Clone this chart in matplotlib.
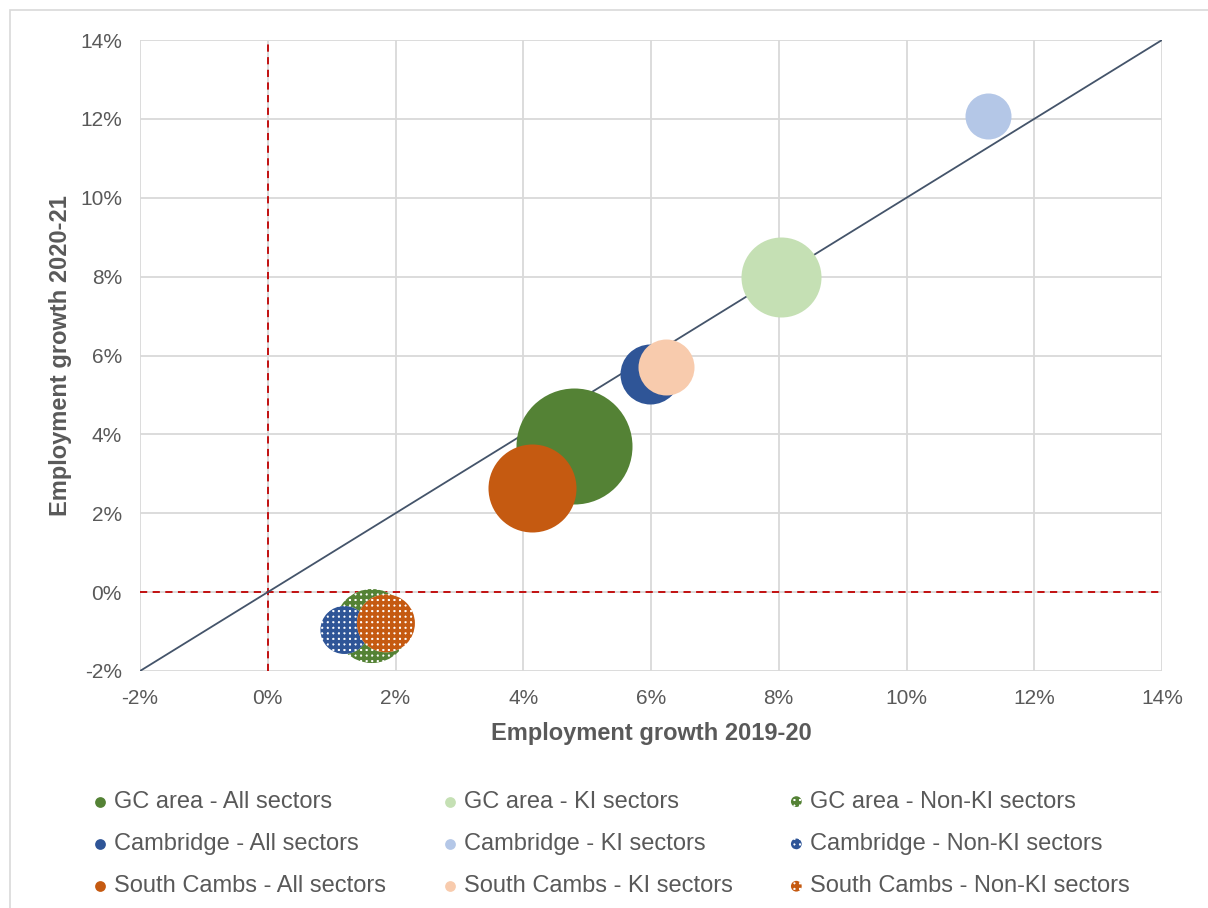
import matplotlib.pyplot as plt
from matplotlib.patches import Rectangle

# employment growth (%) and relative bubble size
labels = ["GC area - All sectors", "Cambridge - All sectors", "South Cambs - All sectors",
          "GC area - KI sectors", "Cambridge - KI sectors", "South Cambs - KI sectors",
          "GC area - Non-KI sectors", "Cambridge - Non-KI sectors", "South Cambs - Non-KI sectors"]
growth_1920 = [4.79, 5.99, 4.13, 8.03, 11.27, 6.24, 1.63, 1.20, 1.85]
growth_2021 = [3.70, 5.53, 2.63, 7.99, 12.07, 5.71, -0.86, -0.96, -0.79]
bubble_size = [3364, 900, 1936, 1600, 529, 784, 1369, 576, 841]
colors = ["#548235", "#2F5597", "#C55A11", "#C5E0B4", "#B4C7E7", "#F8CBAD",
          "#548235", "#2F5597", "#C55A11"]
hatched = [False, False, False, False, False, False, True, True, True]

ticks = list(range(-2, 15, 2))
tick_labels = [f"{t}%" for t in ticks]

plt.rcParams['font.family'] = ['Liberation Sans', 'DejaVu Sans']
plt.rcParams['hatch.linewidth'] = 2.5

fig = plt.figure(figsize=(12.08, 9.08), dpi=100)
fig.patches.append(Rectangle((10 / 1208, -0.01), 1.1, 1 - 10 / 908 + 0.01, transform=fig.transFigure,
                             fill=False, edgecolor="#D9D9D9", linewidth=1.2))
ax = fig.add_axes([140 / 1208, 1 - 671 / 908, 1022 / 1208, 631 / 908])

ax.set_xlim(-2, 14)
ax.set_ylim(-2, 14)
ax.set_xticks(ticks)
ax.set_yticks(ticks)
ax.set_xticklabels(tick_labels)
ax.set_yticklabels(tick_labels)
ax.grid(True, color="#D9D9D9", linewidth=1.3)
ax.set_axisbelow(True)
for s in ax.spines.values():
    s.set_visible(False)
ax.tick_params(length=0, labelsize=15, labelcolor="#595959")
ax.tick_params(axis="y", pad=13)
ax.tick_params(axis="x", pad=13)

ax.axvline(0, color="#C00000", linestyle=(0, (4, 3)), linewidth=1.3, zorder=1)
ax.axhline(0, color="#C00000", linestyle=(0, (4, 3)), linewidth=1.3, zorder=1)
ax.plot([-2, 14], [-2, 14], color="#44546A", linewidth=1.3, zorder=1)

handles = {}
for i in range(len(labels)):
    s = bubble_size[i] * 1.44 ** 2
    if hatched[i]:
        ax.scatter(growth_1920[i], growth_2021[i], s=s, facecolor="white", edgecolor=colors[i],
                   hatch="+++", linewidth=0, zorder=3)
        h = ax.scatter([], [], s=60, facecolor="white", edgecolor=colors[i], hatch="+++", linewidth=0)
    else:
        ax.scatter(growth_1920[i], growth_2021[i], s=s, color=colors[i], linewidth=0, zorder=3)
        h = ax.scatter([], [], s=60, color=colors[i], linewidth=0)
    handles[labels[i]] = h

ax.set_xlabel("Employment growth 2019-20", fontsize=17, fontweight="bold", color="#595959", labelpad=10)
ax.set_ylabel("Employment growth 2020-21", fontsize=17, fontweight="bold", color="#595959", labelpad=6)

leg = fig.legend([handles[l] for l in labels], labels, loc="upper left", ncol=3,
                 bbox_to_anchor=(76 / 1208, 1 - 779 / 908), frameon=False,
                 fontsize=17, labelcolor="#595959", handletextpad=0.1, columnspacing=2.2,
                 labelspacing=0.86, handlelength=1.0, borderpad=0)

fig.savefig("out.png", dpi=100)
